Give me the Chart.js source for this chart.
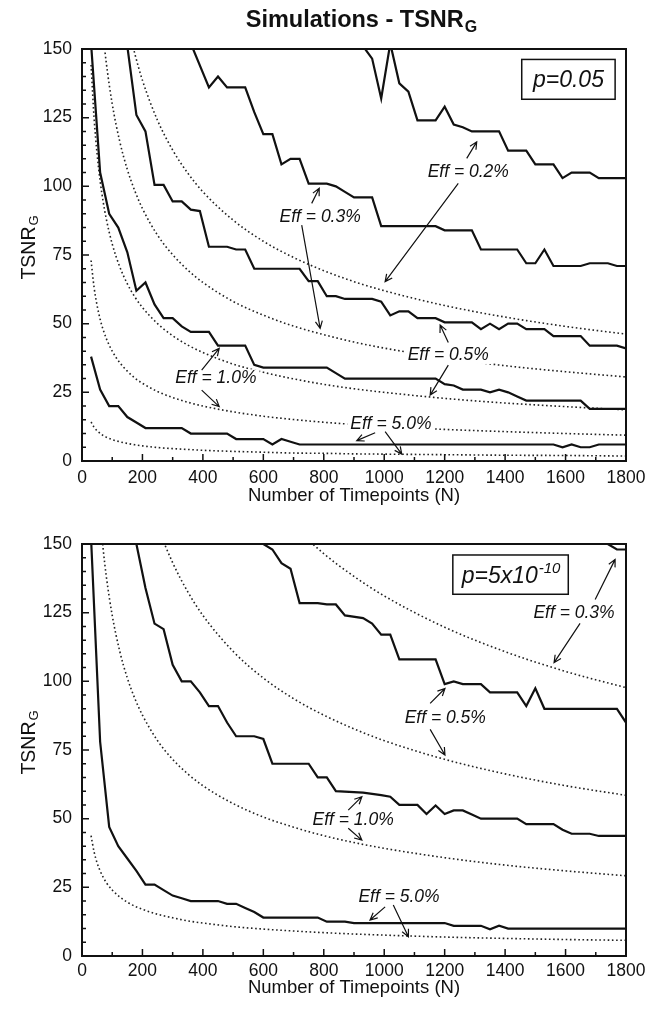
<!DOCTYPE html>
<html>
<head>
<meta charset="utf-8">
<title>Simulations - TSNR</title>
<script src="https://cdn.jsdelivr.net/npm/chart.js@4.4.1/dist/chart.umd.min.js"></script>
<style>
	body { margin: 0; background: #fff; }
	.wrap { position: absolute; left: 0; width: 659px; }
</style>
</head>
<body>
<div class="wrap" style="top: 0;"><canvas id="top" width="659" height="510"></canvas></div>
<div class="wrap" style="top: 510px;"><canvas id="bottom" width="659" height="499"></canvas></div>

<script>
	// ---- data ----
	var xTicks = [0, 200, 400, 600, 800, 1000, 1200, 1400, 1600, 1800];
	var yTicks = [0, 25, 50, 75, 100, 125, 150];

	// p=0.05, simulated curves
	var topN5  = [30, 60, 90, 120, 150, 180, 210, 330, 360, 480, 510, 600, 630, 660, 690, 720, 1560, 1590, 1620, 1650, 1680, 1710, 1800];
	var topS5  = [38, 26, 20, 20, 16, 14, 12, 12, 10, 10, 8, 8, 6, 8, 7, 6, 6, 5, 6, 5, 5, 6, 6];
	var topN1  = [30, 60, 90, 120, 150, 180, 210, 240, 270, 300, 330, 360, 420, 450, 540, 570, 600, 810, 840, 870, 1170, 1200, 1230, 1260, 1320, 1350, 1380, 1410, 1440, 1470, 1650, 1680, 1800];
	var topS1  = [152, 105, 90, 85, 76, 62, 65, 57, 52, 52, 49, 47, 47, 42, 42, 35, 34, 34, 32, 30, 30, 28, 27.5, 26, 26, 25, 26, 25, 23.5, 22, 22, 19, 19];
	var topN05 = [120, 150, 180, 210, 240, 270, 300, 330, 360, 390, 420, 480, 510, 540, 570, 720, 750, 780, 810, 840, 870, 960, 990, 1020, 1050, 1080, 1110, 1170, 1200, 1290, 1320, 1350, 1380, 1410, 1440, 1470, 1530, 1560, 1650, 1680, 1770, 1800];
	var topS05 = [190, 151, 126, 120, 100.5, 100.5, 94.5, 94.5, 91.5, 91, 78, 78, 77, 77, 70, 70, 65.5, 65.5, 60, 60, 59, 59, 58, 53, 54.5, 54.5, 52, 52, 50.5, 50.5, 48, 50, 48, 50, 50, 48, 48, 45.5, 45.5, 42, 42, 41];
	var topN03 = [330, 360, 420, 450, 480, 540, 570, 600, 630, 660, 690, 720, 750, 810, 840, 870, 900, 960, 990, 1170, 1200, 1290, 1320, 1440, 1470, 1500, 1530, 1560, 1650, 1680, 1740, 1770, 1800];
	var topS03 = [172, 152, 136, 140, 136, 136, 127, 119, 119, 108, 110, 110, 101, 101, 100, 98, 96, 96, 85.5, 85.5, 84, 84, 77, 77, 72, 72, 77, 71, 71, 72, 72, 71, 71];
	var topN02 = [900, 930, 960, 990, 1020, 1050, 1080, 1110, 1170, 1200, 1230, 1260, 1290, 1380, 1410, 1470, 1500, 1560, 1590, 1620, 1680, 1710, 1800];
	var topS02 = [165, 151, 146.5, 132, 152, 137.5, 134.5, 124, 124, 129, 122.5, 121.5, 120, 120, 113, 113, 108, 108, 103, 105, 105, 103, 103];

	// p=5x10^-10, simulated curves
	var botN5  = [30, 60, 90, 120, 150, 180, 210, 240, 270, 300, 330, 360, 450, 480, 510, 540, 570, 600, 780, 810, 870, 900, 1200, 1230, 1320, 1350, 1380, 1410, 1800];
	var botS5  = [152, 78, 47, 40, 35.5, 31, 26, 26, 24, 22, 21, 20, 20, 19, 19, 17.5, 16, 14, 14, 12.5, 12.5, 12, 12, 11, 11, 9.7, 11, 10, 10];
	var botN1  = [150, 180, 210, 240, 270, 300, 330, 360, 390, 420, 450, 480, 510, 570, 600, 630, 750, 780, 810, 840, 930, 990, 1020, 1050, 1110, 1140, 1170, 1200, 1230, 1260, 1290, 1320, 1440, 1470, 1560, 1590, 1620, 1680, 1710, 1800];
	var botS1  = [168, 150, 134, 121, 119, 106, 100, 100, 96, 91, 91, 85, 80, 80, 79, 70, 70, 65, 65, 60, 59.5, 58.6, 58, 55, 55, 51.7, 54.8, 51.7, 53, 53, 51.5, 50, 50, 48, 48, 46, 44.5, 44.5, 43.7, 43.7];
	var botN05 = [570, 600, 630, 660, 690, 720, 780, 810, 840, 870, 930, 960, 990, 1020, 1050, 1170, 1200, 1230, 1260, 1320, 1350, 1440, 1470, 1500, 1530, 1770, 1800];
	var botS05 = [165, 150, 148, 143, 141, 128.5, 128.5, 128, 128, 124, 123, 121, 117, 117, 108, 108, 99, 100, 99, 99, 96, 96, 91, 97.5, 90, 90, 85];
	var botN03 = [1710, 1740, 1770, 1800];
	var botS03 = [153, 150, 148, 148];

	// predicted curves (dotted), shared N
	var dotN = [30, 40, 50, 60, 70, 80, 100, 125, 150, 175, 200, 250, 300, 350, 400, 500, 600, 700, 800, 900, 1000, 1200, 1400, 1600, 1800];
	var topDot02 = [357.8, 309.9, 277.2, 253.0, 234.3, 219.1, 196.0, 175.3, 160.0, 148.2, 138.6, 124.0, 113.2, 104.8, 98.0, 87.7, 80.0, 74.1, 69.3, 65.3, 62.0, 56.6, 52.4, 49.0, 46.2];
	var topDot03 = [237.3, 205.5, 183.8, 167.8, 155.4, 145.3, 130.0, 116.3, 106.1, 98.3, 91.9, 82.2, 75.1, 69.5, 65.0, 58.1, 53.1, 49.1, 46.0, 43.3, 41.1, 37.5, 34.7, 32.5, 30.6];
	var topDot05 = [144.2, 124.9, 111.7, 102.0, 94.4, 88.3, 79.0, 70.7, 64.5, 59.7, 55.9, 50.0, 45.6, 42.2, 39.5, 35.3, 32.3, 29.9, 27.9, 26.3, 25.0, 22.8, 21.1, 19.8, 18.6];
	var topDot1  = [73.0, 63.2, 56.6, 51.6, 47.8, 44.7, 40.0, 35.8, 32.7, 30.2, 28.3, 25.3, 23.1, 21.4, 20.0, 17.9, 16.3, 15.1, 14.1, 13.3, 12.6, 11.5, 10.7, 10.0, 9.4];
	var topDot5  = [14.2, 12.3, 11.0, 10.1, 9.3, 8.7, 7.8, 7.0, 6.4, 5.9, 5.5, 4.9, 4.5, 4.2, 3.9, 3.5, 3.2, 2.9, 2.8, 2.6, 2.5, 2.3, 2.1, 2.0, 1.8];
	var botDot03 = [756.8, 655.4, 586.2, 535.1, 495.4, 463.4, 414.5, 370.7, 338.4, 313.3, 293.1, 262.2, 239.3, 221.6, 207.3, 185.4, 169.2, 156.7, 146.5, 138.2, 131.1, 119.7, 110.8, 103.6, 97.7];
	var botDot05 = [452.8, 392.1, 350.7, 320.2, 296.4, 277.3, 248.0, 221.8, 202.5, 187.5, 175.4, 156.8, 143.2, 132.6, 124.0, 110.9, 101.2, 93.7, 87.7, 82.7, 78.4, 71.6, 66.3, 62.0, 58.5];
	var botDot1  = [226.4, 196.1, 175.4, 160.1, 148.2, 138.6, 124.0, 110.9, 101.2, 93.7, 87.7, 78.4, 71.6, 66.3, 62.0, 55.5, 50.6, 46.9, 43.8, 41.3, 39.2, 35.8, 33.1, 31.0, 29.2];
	var botDot5  = [43.8, 37.9, 33.9, 31.0, 28.7, 26.8, 24.0, 21.5, 19.6, 18.1, 17.0, 15.2, 13.9, 12.8, 12.0, 10.7, 9.8, 9.1, 8.5, 8.0, 7.6, 6.9, 6.4, 6.0, 5.7];

	// ---- annotations, in data units: label centre + arrows [x1, y1, x2, y2] ----
	var topLabels = [
		{ text: "Eff = 0.2%", x: 1278, y: 105, arrows: [[1273, 110.2, 1306, 116.2], [1245, 101.1, 1003, 65.3]] },
		{ text: "Eff = 0.3%", x: 788, y: 88.7, arrows: [[760, 93.8, 785, 99.3], [727, 85.9, 788, 48.3]] },
		{ text: "Eff = 0.5%", x: 1212, y: 38.6, arrows: [[1212, 43.1, 1185, 49.5], [1212, 34.9, 1152, 24]] },
		{ text: "Eff = 1.0%", x: 443, y: 30.1, arrows: [[396, 33.1, 454, 41], [396, 25.8, 454, 19.8]] },
		{ text: "Eff = 5.0%", x: 1022, y: 13.5, arrows: [[970, 10.3, 909, 7.4], [1003, 10.7, 1058, 2.5]] }
	];
	var botLabels = [
		{ text: "Eff = 0.3%", x: 1628, y: 124.8, arrows: [[1698, 129.8, 1764, 144.4], [1648, 121.1, 1562, 106.8]] },
		{ text: "Eff = 0.5%", x: 1202, y: 86.5, arrows: [[1152, 92, 1201, 97.4], [1152, 82.5, 1201, 73.2]] },
		{ text: "Eff = 1.0%", x: 897, y: 49.5, arrows: [[881, 53.1, 926, 58], [881, 46.5, 926, 42.2]] },
		{ text: "Eff = 5.0%", x: 1049, y: 21.6, arrows: [[1003, 17.9, 953, 13.1], [1030, 18.6, 1080, 7]] }
	];

	var FONT = "'Liberation Sans', Arial, Helvetica, sans-serif";
	Chart.defaults.font.family = FONT;
	Chart.defaults.color = "#111";

	function pts(n, v){
		return n.map(function(x, i){ return { x: x, y: v[i] }; });
	}
	function solid(n, v){
		return { data: pts(n, v), borderColor: "#111", borderWidth: 2.2, pointRadius: 0, tension: 0 };
	}
	function dotted(v){
		return { data: pts(dotN, v), borderColor: "#222", borderWidth: 1.6, borderDash: [1.6, 2.6], pointRadius: 0, cubicInterpolationMode: "monotone" };
	}

	function arrow(ctx, x1, y1, x2, y2){
		var ang = Math.atan2(y2 - y1, x2 - x1), L = 8, s = 0.45;
		ctx.beginPath();
		ctx.moveTo(x1, y1); ctx.lineTo(x2, y2);
		ctx.moveTo(x2 - L * Math.cos(ang - s), y2 - L * Math.sin(ang - s));
		ctx.lineTo(x2, y2);
		ctx.lineTo(x2 - L * Math.cos(ang + s), y2 - L * Math.sin(ang + s));
		ctx.stroke();
	}

	// frame, inner ticks, axis titles, annotations
	var deco = {
		id: "deco",
		afterDatasetsDraw: function(chart, args, o){
			var ctx = chart.ctx, a = chart.chartArea, sx = chart.scales.x, sy = chart.scales.y;
			ctx.save();
			ctx.strokeStyle = "#111";
			ctx.fillStyle = "#111";

			// annotations
			ctx.lineWidth = 1.2;
			o.labels.forEach(function(l){
				ctx.font = "italic 17.5px " + FONT;
				var w = ctx.measureText(l.text).width;
				var px = sx.getPixelForValue(l.x), py = sy.getPixelForValue(l.y);
				ctx.fillStyle = "#fff";
				ctx.fillRect(px - w / 2 - 3, py - 9, w + 6, 18);
				ctx.fillStyle = "#111";
				ctx.textAlign = "center";
				ctx.textBaseline = "middle";
				ctx.fillText(l.text, px, py);
				l.arrows.forEach(function(r){
					arrow(ctx, sx.getPixelForValue(r[0]), sy.getPixelForValue(r[1]), sx.getPixelForValue(r[2]), sy.getPixelForValue(r[3]));
				});
			});

			// p-value box
			var b = o.box;
			var bx1 = sx.getPixelForValue(b.x1), bx2 = sx.getPixelForValue(b.x2);
			var by1 = sy.getPixelForValue(b.y1), by2 = sy.getPixelForValue(b.y2);
			ctx.fillStyle = "#fff";
			ctx.fillRect(bx1, by1, bx2 - bx1, by2 - by1);
			ctx.lineWidth = 1.5;
			ctx.strokeRect(bx1, by1, bx2 - bx1, by2 - by1);
			ctx.fillStyle = "#111";
			ctx.textAlign = "left";
			ctx.textBaseline = "alphabetic";
			ctx.font = "italic 23px " + FONT;
			var w1 = ctx.measureText(b.text).width, w2 = 0;
			if(b.sup){
				ctx.font = "italic 15px " + FONT;
				w2 = ctx.measureText(b.sup).width;
			}
			var tx = (bx1 + bx2) / 2 - (w1 + w2) / 2, ty = (by1 + by2) / 2 + 8;
			ctx.font = "italic 23px " + FONT;
			ctx.fillText(b.text, tx, ty);
			if(b.sup){
				ctx.font = "italic 15px " + FONT;
				ctx.fillText(b.sup, tx + w1 + 1, ty - 10);
			}

			// frame
			ctx.lineWidth = 2;
			ctx.strokeRect(a.left, a.top, a.right - a.left, a.bottom - a.top);

			// inner ticks
			ctx.lineWidth = 1.5;
			ctx.beginPath();
			for(var v = 0; v <= 150; v += 5){
				var py = sy.getPixelForValue(v);
				ctx.moveTo(a.left, py);
				ctx.lineTo(a.left + (v % 25 ? 4 : 7), py);
			}
			for(var n = 0; n <= 1800; n += 100){
				var px = sx.getPixelForValue(n);
				ctx.moveTo(px, a.bottom);
				ctx.lineTo(px, a.bottom - (n % 200 ? 4 : 7));
			}
			ctx.stroke();

			// x title
			ctx.font = "18.5px " + FONT;
			ctx.textAlign = "center";
			ctx.textBaseline = "middle";
			ctx.fillText("Number of Timepoints (N)", (a.left + a.right) / 2, a.bottom + o.xTitleGap);

			// y title with subscript G
			ctx.save();
			ctx.translate(28, (a.top + a.bottom) / 2 - 7);
			ctx.rotate(-Math.PI / 2);
			ctx.font = "19.5px " + FONT;
			var tw = ctx.measureText("TSNR").width;
			ctx.font = "13px " + FONT;
			var gw = ctx.measureText("G").width;
			ctx.textAlign = "left";
			ctx.textBaseline = "alphabetic";
			ctx.font = "19.5px " + FONT;
			ctx.fillText("TSNR", -(tw + gw) / 2, 7);
			ctx.font = "13px " + FONT;
			ctx.fillText("G", -(tw + gw) / 2 + tw + 1, 10);
			ctx.restore();

			// main title
			if(o.title){
				ctx.font = "bold 23.5px " + FONT;
				var t1 = ctx.measureText("Simulations - TSNR").width;
				ctx.font = "bold 16px " + FONT;
				var t2 = ctx.measureText("G").width;
				var x0 = 361 - (t1 + t2) / 2;
				ctx.textAlign = "left";
				ctx.textBaseline = "alphabetic";
				ctx.font = "bold 23.5px " + FONT;
				ctx.fillText("Simulations - TSNR", x0, 27);
				ctx.font = "bold 16px " + FONT;
				ctx.fillText("G", x0 + t1 + 1, 32);
			}
			ctx.restore();
		}
	};

	function makeChart(id, sets, padTop, xHeight, tickPad, xTitleGap, labels, box, title){
		return new Chart(document.getElementById(id), {
			type: "line",
			data: { datasets: sets },
			plugins: [deco],
			options: {
				responsive: false,
				animation: false,
				layout: { padding: { top: padTop, right: 33, bottom: 0, left: 0 } },
				plugins: {
					legend: { display: false },
					tooltip: { enabled: false },
					deco: { labels: labels, box: box, title: title, xTitleGap: xTitleGap }
				},
				scales: {
					x: {
						type: "linear", min: 0, max: 1800,
						afterBuildTicks: function(s){ s.ticks = xTicks.map(function(v){ return { value: v }; }); },
						ticks: { font: { size: 17.5 }, padding: tickPad, maxRotation: 0, autoSkip: false, callback: function(v){ return String(v); } },
						grid: { display: false, drawTicks: false },
						border: { display: false },
						afterFit: function(s){ s.height = xHeight; }
					},
					y: {
						type: "linear", min: 0, max: 150,
						afterBuildTicks: function(s){ s.ticks = yTicks.map(function(v){ return { value: v }; }); },
						ticks: { font: { size: 17.5 }, padding: 10, callback: function(v){ return String(v); } },
						grid: { display: false, drawTicks: false },
						border: { display: false },
						afterFit: function(s){ s.width = 82; }
					}
				}
			}
		});
	}

	makeChart("top", [
		solid(topN5, topS5), solid(topN1, topS1), solid(topN05, topS05), solid(topN03, topS03), solid(topN02, topS02),
		dotted(topDot02), dotted(topDot03), dotted(topDot05), dotted(topDot1), dotted(topDot5)
	], 49, 49, 7, 35, topLabels, { x1: 1455, y1: 146.2, x2: 1764, y2: 131.7, text: "p=0.05" }, true);

	makeChart("bottom", [
		solid(botN5, botS5), solid(botN1, botS1), solid(botN05, botS05), solid(botN03, botS03),
		dotted(botDot03), dotted(botDot05), dotted(botDot1), dotted(botDot5)
	], 34, 53, 5, 32, botLabels, { x1: 1227, y1: 146, x2: 1609, y2: 131.7, text: "p=5x10", sup: "-10" }, false);
</script>
</body>
</html>
